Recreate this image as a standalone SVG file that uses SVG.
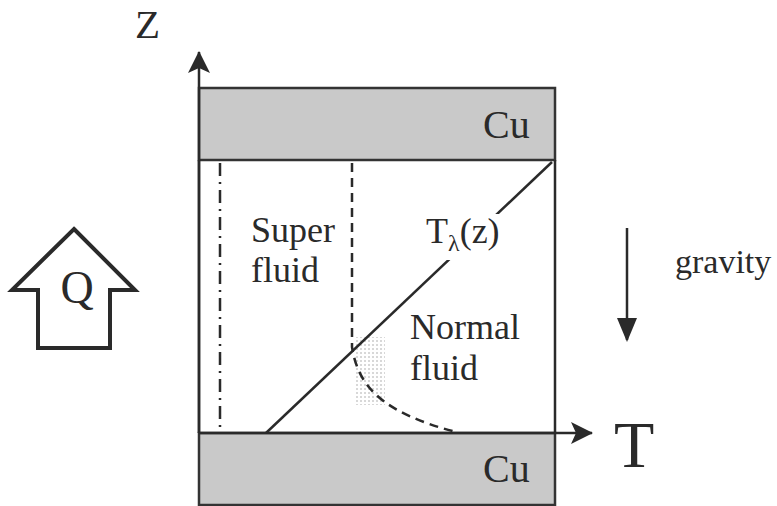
<svg xmlns="http://www.w3.org/2000/svg" width="777" height="506" viewBox="0 0 777 506">
<defs>
<style>
text{font-family:'Liberation Serif','Times New Roman',serif;fill:#2a2a2a}
.cu{fill:#c9c9c9;stroke:#333;stroke-width:2.5}
.ln{stroke:#2a2a2a;stroke-width:2.5;fill:none}
</style>
<marker id="ah" viewBox="0 0 22 22" refX="21" refY="11" markerWidth="22" markerHeight="22" markerUnits="userSpaceOnUse" orient="auto">
<path d="M0,0 L22,11 L0,22 L5,11 Z" fill="#2a2a2a"/>
</marker>
<marker id="ah2" viewBox="0 0 20 24" refX="10" refY="22" markerWidth="20" markerHeight="24" markerUnits="userSpaceOnUse" orient="0">
<path d="M0,0 L20,0 L10,24 Z" fill="#2a2a2a"/>
</marker>
<pattern id="dots" width="4" height="4" patternUnits="userSpaceOnUse">
<rect width="4" height="4" fill="#fff"/>
<rect width="2" height="2" fill="#d8d8d8"/>
</pattern>
</defs>
<rect width="777" height="506" fill="#fff"/>
<g id="cu-top"><rect class="cu" x="199" y="88" width="356" height="72"/><text x="483" y="138" font-size="40">Cu</text></g>
<g id="cu-bottom"><rect class="cu" x="199" y="433" width="356" height="72"/><text x="483" y="482" font-size="40">Cu</text></g>
<g id="walls"><line class="ln" x1="199" y1="160" x2="199" y2="433"/><line class="ln" x1="555" y1="160" x2="555" y2="433"/></g>
<g id="stipple"><rect x="355" y="337" width="30" height="68" fill="url(#dots)"/></g>
<g id="connectors">
<line class="ln" x1="199" y1="433" x2="199" y2="52" marker-end="url(#ah)"/>
<line class="ln" x1="199" y1="433" x2="592" y2="433" marker-end="url(#ah)"/>
<line class="ln" x1="627" y1="228" x2="627" y2="340" marker-end="url(#ah2)"/>
<line class="ln" x1="266" y1="433" x2="552" y2="162"/>
<line class="ln" x1="220" y1="163" x2="220" y2="430" stroke-dasharray="13,6,2,6"/>
<path class="ln" d="M352,163 L352,347 C358,385 380,412 456,432" stroke-dasharray="9,6"/>
</g>
<g id="labels">
<text x="135" y="38" font-size="41">Z</text>
<text x="614" y="467" font-size="66">T</text>
<text x="251" y="242" font-size="36">Super</text>
<text x="251" y="282" font-size="36">fluid</text>
<text x="410" y="339" font-size="36">Normal</text>
<text x="410" y="380" font-size="36">fluid</text>
<rect x="420" y="214" width="84" height="46" fill="#fff"/>
<text x="426" y="243" font-size="36">T<tspan font-size="24" dy="8">λ</tspan><tspan dy="-8">(z)</tspan></text>
<text x="675" y="273" font-size="34">gravity</text>
</g>
<g id="q-arrow">
<path d="M74,229 L135,290 L110,290 L110,348 L38,348 L38,290 L12,290 Z" fill="#fff" stroke="#2a2a2a" stroke-width="4" stroke-linejoin="miter"/>
<text x="77" y="303" font-size="46" text-anchor="middle">Q</text>
</g>
</svg>
